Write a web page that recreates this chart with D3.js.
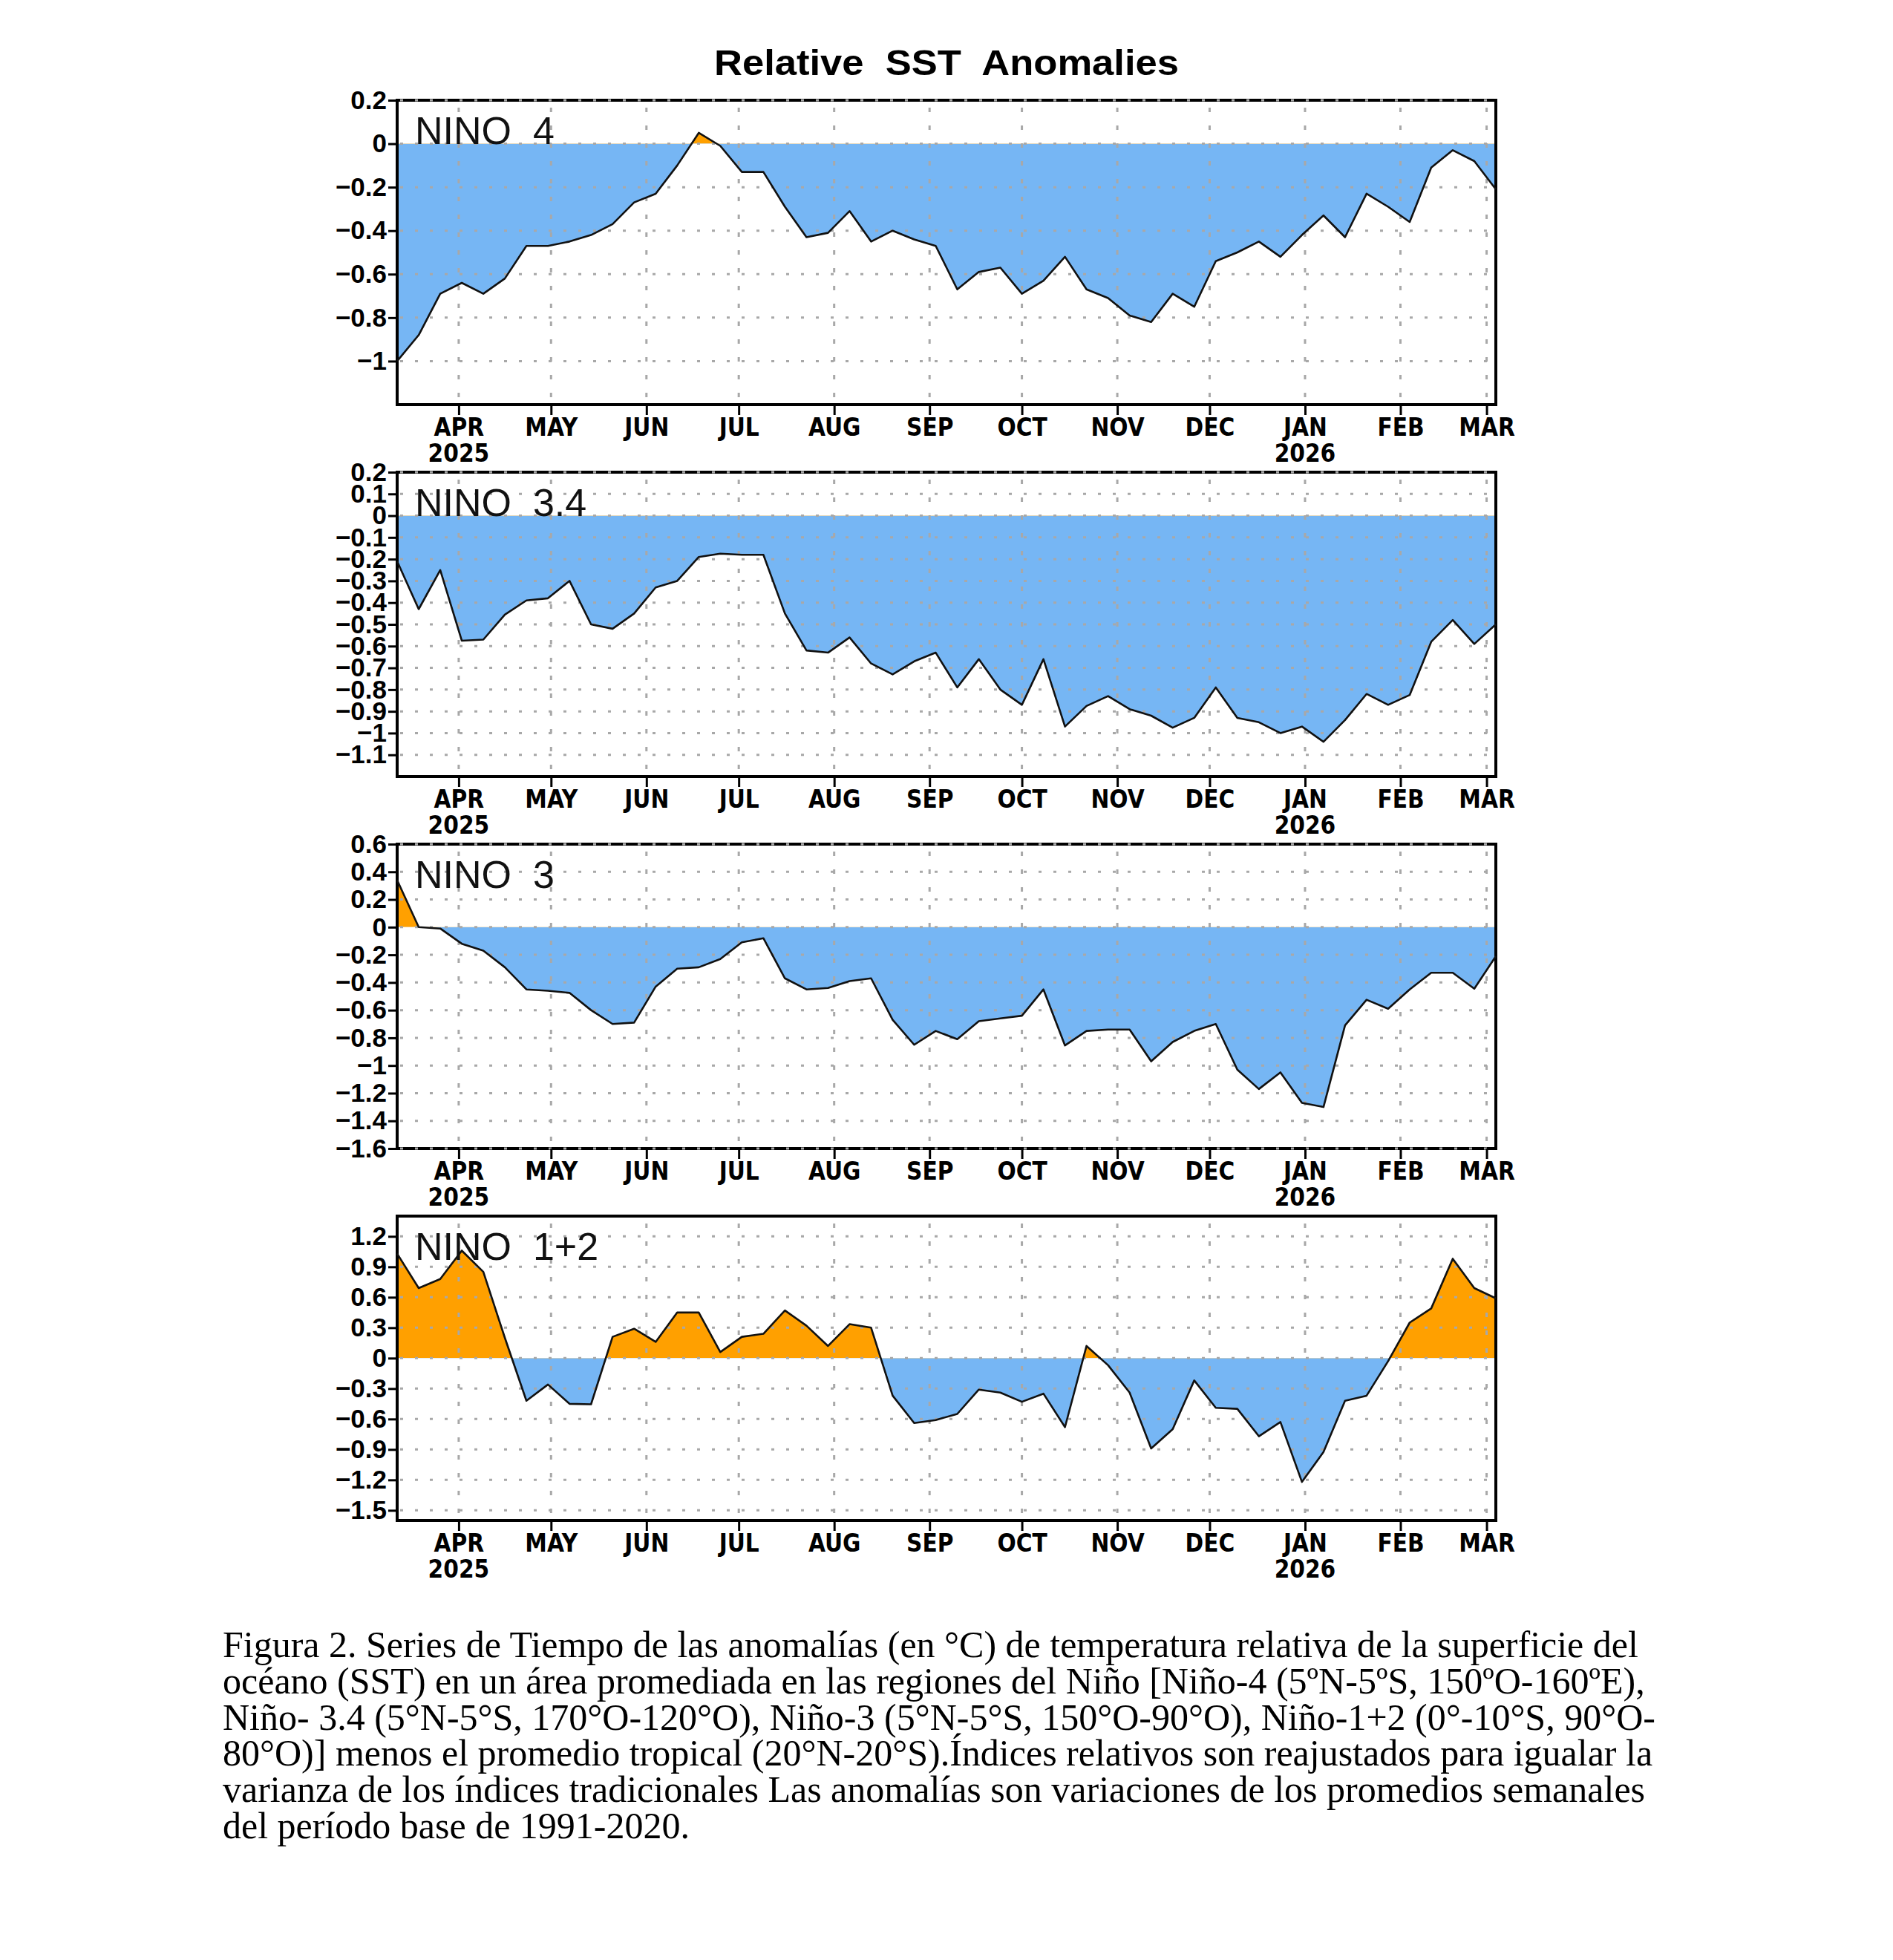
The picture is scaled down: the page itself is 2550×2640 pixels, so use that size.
<!DOCTYPE html>
<html>
<head>
<meta charset="utf-8">
<script src="https://cdn.jsdelivr.net/npm/d3@7"></script>
<style>
  body { margin: 0; background: #fff; }
  svg { display: block; }
</style>
</head>
<body>
<div id="chart"></div>
<script>
// Weekly centers (Wednesdays) shown on the x axis
var weeks = [
  "2025-03-12","2025-03-19","2025-03-26","2025-04-02","2025-04-09","2025-04-16","2025-04-23","2025-04-30",
  "2025-05-07","2025-05-14","2025-05-21","2025-05-28","2025-06-04","2025-06-11","2025-06-18","2025-06-25",
  "2025-07-02","2025-07-09","2025-07-16","2025-07-23","2025-07-30","2025-08-06","2025-08-13","2025-08-20",
  "2025-08-27","2025-09-03","2025-09-10","2025-09-17","2025-09-24","2025-10-01","2025-10-08","2025-10-15",
  "2025-10-22","2025-10-29","2025-11-05","2025-11-12","2025-11-19","2025-11-26","2025-12-03","2025-12-10",
  "2025-12-17","2025-12-24","2025-12-31","2026-01-07","2026-01-14","2026-01-21","2026-01-28","2026-02-04",
  "2026-02-11","2026-02-18","2026-02-25","2026-03-04"
];

// Relative SST anomalies (deg C)
var nino4 = [-1.00,-0.88,-0.69,-0.64,-0.69,-0.62,-0.47,-0.47,-0.45,-0.42,
  -0.37,-0.27,-0.23,-0.10,0.05,-0.01,-0.13,-0.13,-0.29,-0.43,
  -0.41,-0.31,-0.45,-0.40,-0.44,-0.47,-0.67,-0.59,-0.57,-0.69,
  -0.63,-0.52,-0.67,-0.71,-0.79,-0.82,-0.69,-0.75,-0.54,-0.50,
  -0.45,-0.52,-0.42,-0.33,-0.43,-0.23,-0.29,-0.36,-0.11,-0.03,
  -0.08,-0.21];

var nino34 = [-0.21,-0.43,-0.25,-0.575,-0.57,-0.455,-0.39,-0.38,-0.30,-0.50,
  -0.52,-0.45,-0.33,-0.30,-0.19,-0.175,-0.18,-0.18,-0.45,-0.62,
  -0.63,-0.56,-0.68,-0.73,-0.67,-0.63,-0.79,-0.66,-0.80,-0.87,
  -0.66,-0.97,-0.875,-0.83,-0.89,-0.92,-0.975,-0.93,-0.79,-0.93,
  -0.95,-1.00,-0.97,-1.04,-0.94,-0.82,-0.87,-0.825,-0.58,-0.48,
  -0.59,-0.50];

var nino3 = [0.34,0.00,-0.01,-0.12,-0.17,-0.29,-0.45,-0.46,-0.475,-0.60,
  -0.70,-0.69,-0.43,-0.30,-0.29,-0.23,-0.11,-0.08,-0.37,-0.45,
  -0.44,-0.39,-0.37,-0.67,-0.85,-0.75,-0.81,-0.68,-0.66,-0.64,
  -0.45,-0.855,-0.75,-0.74,-0.74,-0.97,-0.83,-0.75,-0.70,-1.03,
  -1.17,-1.05,-1.27,-1.30,-0.71,-0.525,-0.59,-0.45,-0.33,-0.33,
  -0.445,-0.21];

var nino12 = [1.03,0.69,0.78,1.06,0.85,0.20,-0.42,-0.26,-0.45,-0.455,
  0.21,0.29,0.16,0.45,0.45,0.06,0.21,0.24,0.47,0.32,
  0.12,0.335,0.30,-0.37,-0.64,-0.61,-0.55,-0.31,-0.34,-0.43,
  -0.35,-0.68,0.12,-0.07,-0.34,-0.89,-0.70,-0.22,-0.49,-0.50,
  -0.77,-0.63,-1.22,-0.925,-0.42,-0.37,-0.03,0.35,0.49,0.98,
  0.69,0.59];

// Axis ticks and labels
var monthTicks = ["2025-04-01","2025-05-01","2025-06-01","2025-07-01","2025-08-01","2025-09-01",
  "2025-10-01","2025-11-01","2025-12-01","2026-01-01","2026-02-01","2026-03-01"];
var monthLabels = ["APR","MAY","JUN","JUL","AUG","SEP","OCT","NOV","DEC","JAN","FEB","MAR"];
var yearTicks = ["2025-04-01","2026-01-01"];
var yearLabels = ["2025","2026"];

var ticks4 = [0.2,0,-0.2,-0.4,-0.6,-0.8,-1];
var ticks34 = [0.2,0.1,0,-0.1,-0.2,-0.3,-0.4,-0.5,-0.6,-0.7,-0.8,-0.9,-1,-1.1];
var ticks3 = [0.6,0.4,0.2,0,-0.2,-0.4,-0.6,-0.8,-1,-1.2,-1.4,-1.6];
var ticks12 = [1.2,0.9,0.6,0.3,0,-0.3,-0.6,-0.9,-1.2,-1.5];

var panelNames = ["NINO  4","NINO  3.4","NINO  3","NINO  1+2"];

var captionLines = [
  "Figura 2. Series de Tiempo de las anomalías (en °C) de temperatura relativa de la superficie del",
  "océano (SST) en un área promediada en las regiones del Niño [Niño-4 (5ºN-5ºS, 150ºO-160ºE),",
  "Niño- 3.4 (5°N-5°S, 170°O-120°O), Niño-3 (5°N-5°S, 150°O-90°O), Niño-1+2 (0°-10°S, 90°O-",
  "80°O)] menos el promedio tropical (20°N-20°S).Índices relativos son reajustados para igualar la",
  "varianza de los índices tradicionales Las anomalías son variaciones de los promedios semanales",
  "del período base de 1991-2020."
];

// Panel table built from the arrays above
var panels = [
  {name: panelNames[0], values: nino4, ticks: ticks4, domain: [-1.2, 0.2]},
  {name: panelNames[1], values: nino34, ticks: ticks34, domain: [-1.2, 0.2]},
  {name: panelNames[2], values: nino3, ticks: ticks3, domain: [-1.6, 0.6]},
  {name: panelNames[3], values: nino12, ticks: ticks12, domain: [-1.6, 1.4]}
];

var svgWidth = 2550;
var svgHeight = 2640;
var plotLeft = 535;
var plotRight = 2015;
var plotHeight = 410;
var panelStep = 501;
var firstTop = 135;

var blue = "#76b6f4";
var orange = "#ffa000";
var gridColor = "#a8a8a8";
var boldFont = "'Liberation Sans', Arial, sans-serif";
var narrowFont = "'Liberation Sans Narrow', 'DejaVu Sans Condensed', 'Liberation Sans', sans-serif";

var svg = d3.select("#chart")
  .append("svg")
  .attr("width", svgWidth)
  .attr("height", svgHeight);

svg.append("rect").attr("width", svgWidth).attr("height", svgHeight).attr("fill", "#fff");

var dates = weeks.map(d => new Date(d));

var xScale = d3.scaleUtc()
  .domain([dates[0], dates[dates.length - 1]])
  .range([plotLeft, plotRight]);

// Title
svg.append("text")
  .attr("x", (plotLeft + plotRight) / 2)
  .attr("y", 101)
  .attr("text-anchor", "middle")
  .attr("font-family", boldFont)
  .attr("font-weight", "bold")
  .attr("font-size", 48)
  .attr("textLength", 626)
  .attr("lengthAdjust", "spacingAndGlyphs")
  .style("white-space", "pre")
  .text("Relative  SST  Anomalies");

var fmt = d3.format("~g");
var yLabel = v => v === 0 ? "0" : (v < 0 ? "\u2212" : "") + fmt(Math.abs(v));

var defs = svg.append("defs");

panels.forEach(function(p, k) {
  var top = firstTop + k * panelStep;
  var bottom = top + plotHeight;

  var yScale = d3.scaleLinear()
    .domain(p.domain)
    .range([bottom, top]);
  var zero = yScale(0);

  // clip regions above and below zero
  defs.append("clipPath").attr("id", "pos" + k)
    .append("rect").attr("x", plotLeft).attr("y", top)
    .attr("width", plotRight - plotLeft).attr("height", zero - top);
  defs.append("clipPath").attr("id", "neg" + k)
    .append("rect").attr("x", plotLeft).attr("y", zero)
    .attr("width", plotRight - plotLeft).attr("height", bottom - zero);

  var g = svg.append("g");

  var area = d3.area()
    .x((d, i) => xScale(dates[i]))
    .y0(zero)
    .y1(d => yScale(d));

  g.append("path").datum(p.values)
    .attr("d", area)
    .attr("fill", blue)
    .attr("clip-path", "url(#neg" + k + ")");

  g.append("path").datum(p.values)
    .attr("d", area)
    .attr("fill", orange)
    .attr("clip-path", "url(#pos" + k + ")");

  // frame
  g.append("rect")
    .attr("x", plotLeft).attr("y", top)
    .attr("width", plotRight - plotLeft).attr("height", plotHeight)
    .attr("fill", "none")
    .attr("stroke", "#000")
    .attr("stroke-width", 4);

  // dotted grid
  g.selectAll(".hgrid").data(p.ticks).enter()
    .append("line")
    .attr("x1", plotLeft + 4).attr("x2", plotRight)
    .attr("y1", d => yScale(d)).attr("y2", d => yScale(d))
    .attr("stroke", gridColor)
    .attr("stroke-width", 3)
    .attr("stroke-dasharray", "4,16");

  g.selectAll(".vgrid").data(monthTicks).enter()
    .append("line")
    .attr("x1", d => xScale(new Date(d))).attr("x2", d => xScale(new Date(d)))
    .attr("y1", top + 10).attr("y2", bottom)
    .attr("stroke", gridColor)
    .attr("stroke-width", 3)
    .attr("stroke-dasharray", "6,18");

  // data line
  var line = d3.line()
    .x((d, i) => xScale(dates[i]))
    .y(d => yScale(d));

  g.append("path").datum(p.values)
    .attr("d", line)
    .attr("fill", "none")
    .attr("stroke", "#111")
    .attr("stroke-width", 2.6)
    .attr("stroke-linejoin", "round");

  // y axis
  var leftAxis = d3.axisLeft(yScale)
    .tickValues(p.ticks)
    .tickFormat(yLabel)
    .tickSize(12)
    .tickPadding(2);

  var ya = g.append("g")
    .attr("transform", `translate(${plotLeft}, 0)`)
    .call(leftAxis);
  ya.select(".domain").remove();
  ya.selectAll("line").attr("stroke", "#000").attr("stroke-width", 3);
  ya.selectAll("text")
    .attr("font-family", boldFont)
    .attr("font-weight", "bold")
    .attr("font-size", 35)
    .attr("fill", "#000");

  // month axis
  var bottomAxis = d3.axisBottom(xScale)
    .tickValues(monthTicks.map(d => new Date(d)))
    .tickFormat((d, i) => monthLabels[i])
    .tickSize(14)
    .tickPadding(5);

  var xa = g.append("g")
    .attr("transform", `translate(0, ${bottom})`)
    .call(bottomAxis);
  xa.select(".domain").remove();
  xa.selectAll("line").attr("stroke", "#000").attr("stroke-width", 3);
  xa.selectAll("text")
    .attr("font-family", narrowFont)
    .attr("font-weight", "bold")
    .attr("font-size", 33)
    .attr("fill", "#000");

  g.selectAll(".year").data(yearTicks).enter()
    .append("text")
    .attr("x", d => xScale(new Date(d)))
    .attr("y", bottom + 54)
    .attr("dy", "0.71em")
    .attr("text-anchor", "middle")
    .attr("font-family", narrowFont)
    .attr("font-weight", "bold")
    .attr("font-size", 33)
    .text((d, i) => yearLabels[i]);

  // region label
  g.append("text")
    .attr("x", plotLeft + 24)
    .attr("y", top + 59)
    .attr("font-family", "'Liberation Sans', Arial, sans-serif")
    .attr("font-size", 52)
    .style("white-space", "pre")
    .attr("fill", "#111")
    .text(p.name);
});

// Caption
svg.append("g")
  .selectAll("text")
  .data(captionLines)
  .enter()
  .append("text")
  .attr("x", 300)
  .attr("y", (d, i) => 2232 + i * 48.8)
  .attr("font-family", "'Liberation Serif', 'Times New Roman', serif")
  .attr("font-size", 50)
  .attr("fill", "#000")
  .text(d => d);
</script>
</body>
</html>
